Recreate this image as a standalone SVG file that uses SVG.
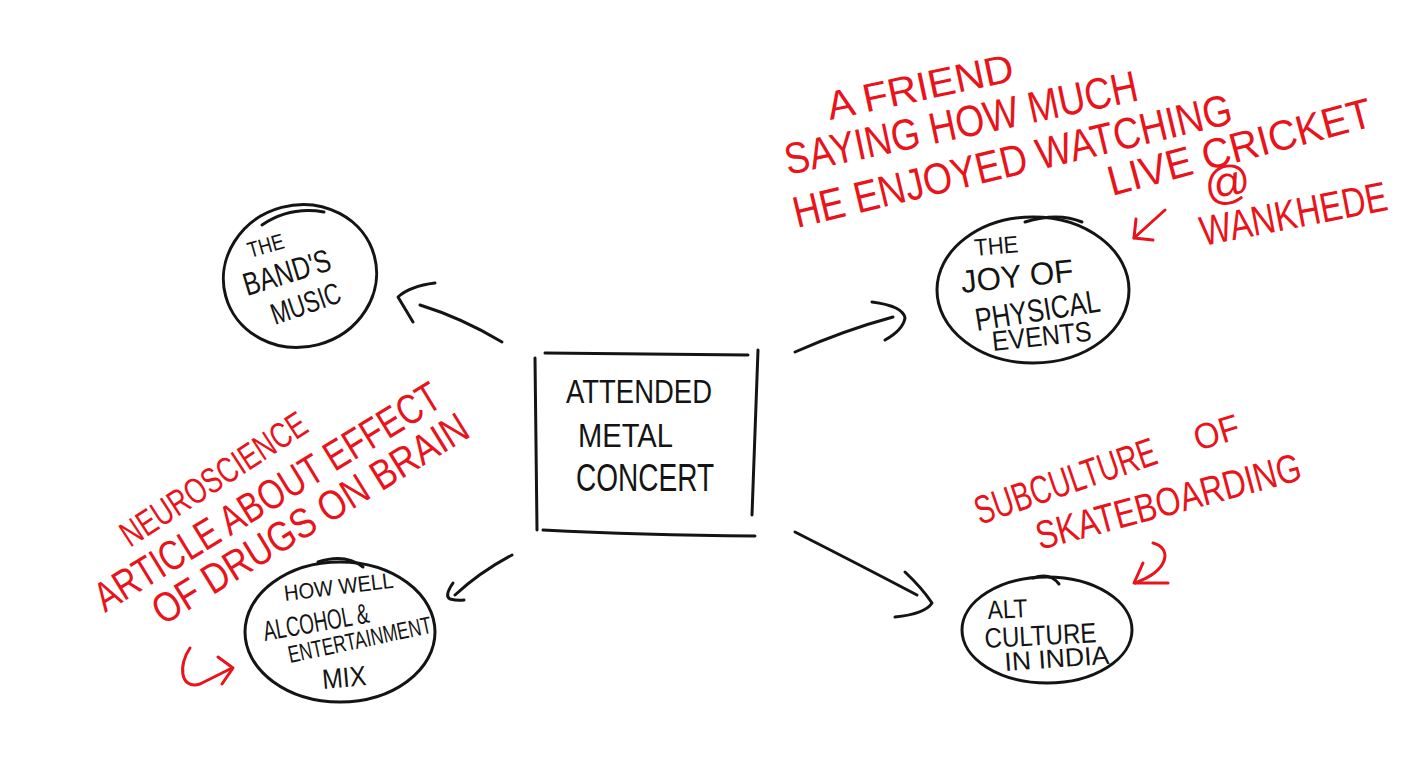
<svg xmlns="http://www.w3.org/2000/svg" width="1426" height="762" viewBox="0 0 1426 762">
<style>
.ink{fill:none;stroke:#141414;stroke-width:3;stroke-linecap:round;stroke-linejoin:round}
.red{fill:none;stroke:#e8141c;stroke-width:3;stroke-linecap:round;stroke-linejoin:round}
.bt{font-family:"Liberation Sans",Arial,sans-serif;fill:#141414}
.rt{font-family:"Liberation Sans",Arial,sans-serif;fill:#e8141c}
</style>
<rect width="1426" height="762" fill="#ffffff"/>

<g id="center-box">
<path class="ink" d="M545,353 L748,355"/>
<path class="ink" d="M535,358 L537,530"/>
<path class="ink" d="M758,350 L752,515"/>
<path class="ink" d="M543,530 Q640,535 755,536"/>
<text class="bt" x="566" y="403" font-size="34" textLength="146" lengthAdjust="spacingAndGlyphs">ATTENDED</text>
<text class="bt" x="578" y="447" font-size="34" textLength="95" lengthAdjust="spacingAndGlyphs">METAL</text>
<text class="bt" x="576" y="491" font-size="38" textLength="138" lengthAdjust="spacingAndGlyphs">CONCERT</text>
</g>

<g id="node-bands-music">
<ellipse class="ink" cx="300" cy="276" rx="77" ry="71" transform="rotate(-15 300 276)"/>
<path class="ink" d="M262,225 Q290,206 324,212"/>
<text class="bt" font-size="22" transform="translate(250,258) rotate(-16)" textLength="37" lengthAdjust="spacingAndGlyphs">THE</text>
<text class="bt" font-size="32" transform="translate(247,296) rotate(-17)" textLength="90" lengthAdjust="spacingAndGlyphs">BAND'S</text>
<text class="bt" font-size="30" transform="translate(275,325) rotate(-19)" textLength="72" lengthAdjust="spacingAndGlyphs">MUSIC</text>
</g>

<g id="node-joy">
<ellipse class="ink" cx="1033" cy="290" rx="96" ry="73"/>
<path class="ink" d="M1025,222 Q1058,212 1082,222"/>
<text class="bt" font-size="24" transform="translate(975,256) rotate(-5)" textLength="44" lengthAdjust="spacingAndGlyphs">THE</text>
<text class="bt" font-size="32" transform="translate(962,293) rotate(-6)" textLength="113" lengthAdjust="spacingAndGlyphs">JOY OF</text>
<text class="bt" font-size="32" transform="translate(977,331) rotate(-9)" textLength="126" lengthAdjust="spacingAndGlyphs">PHYSICAL</text>
<text class="bt" font-size="28" transform="translate(993,351) rotate(-6)" textLength="100" lengthAdjust="spacingAndGlyphs">EVENTS</text>
</g>

<g id="node-alcohol">
<ellipse class="ink" cx="340" cy="632" rx="95" ry="70"/>
<path class="ink" d="M318,562 Q345,553 363,567"/>
<text class="bt" font-size="22" transform="translate(285,601) rotate(-7)" textLength="110" lengthAdjust="spacingAndGlyphs">HOW WELL</text>
<text class="bt" font-size="28" transform="translate(265,641) rotate(-10)" textLength="107" lengthAdjust="spacingAndGlyphs">ALCOHOL &amp;</text>
<text class="bt" font-size="24" transform="translate(290,663) rotate(-12)" textLength="146" lengthAdjust="spacingAndGlyphs">ENTERTAINMENT</text>
<text class="bt" font-size="28" transform="translate(323,689) rotate(-5)" textLength="44" lengthAdjust="spacingAndGlyphs">MIX</text>
</g>

<g id="node-alt-culture">
<ellipse class="ink" cx="1047" cy="630" rx="85" ry="53"/>
<path class="ink" d="M1033,578 Q1050,572 1059,584"/>
<text class="bt" font-size="26" transform="translate(988,619) rotate(-3)" textLength="40" lengthAdjust="spacingAndGlyphs">ALT</text>
<text class="bt" font-size="28" transform="translate(985,648) rotate(-3)" textLength="112" lengthAdjust="spacingAndGlyphs">CULTURE</text>
<text class="bt" font-size="26" transform="translate(1005,671) rotate(-4)" textLength="105" lengthAdjust="spacingAndGlyphs">IN INDIA</text>
</g>

<g id="connectors">
<path class="ink" d="M502,342 Q462,318 420,305"/>
<path class="ink" d="M435,283 Q410,286 398,297 L413,322"/>
<path class="ink" d="M795,352 Q845,330 893,317"/>
<path class="ink" d="M872,302 Q903,306 905,318 Q903,330 885,340"/>
<path class="ink" d="M512,555 Q480,572 455,595"/>
<path class="ink" d="M453,583 Q444,596 450,599 Q458,601 464,600"/>
<path class="ink" d="M795,532 Q860,565 917,595"/>
<path class="ink" d="M905,572 Q922,588 932,603 Q925,614 895,617"/>
</g>

<g id="note-cricket">
<text class="rt" font-size="40" transform="translate(830,120) rotate(-12)" textLength="190" lengthAdjust="spacingAndGlyphs">A FRIEND</text>
<text class="rt" font-size="44" transform="translate(788,175) rotate(-12)" textLength="360" lengthAdjust="spacingAndGlyphs">SAYING HOW MUCH</text>
<text class="rt" font-size="44" transform="translate(797,228) rotate(-13.5)" textLength="450" lengthAdjust="spacingAndGlyphs">HE ENJOYED WATCHING</text>
<text class="rt" font-size="42" transform="translate(1112,196) rotate(-15)" textLength="272" lengthAdjust="spacingAndGlyphs">LIVE CRICKET</text>
<text class="rt" font-size="46" transform="translate(1207,202) rotate(-10)">@</text>
<text class="rt" font-size="33" transform="translate(1203,246) rotate(-11) scale(1,1.27)" textLength="190" lengthAdjust="spacingAndGlyphs">WANKHEDE</text>
<path class="red" d="M1165,210 L1134,238"/>
<path class="red" d="M1136,219 L1134,238 L1153,240"/>
</g>

<g id="note-neuroscience">
<text class="rt" font-size="36" transform="translate(130,548) rotate(-33)" textLength="215" lengthAdjust="spacingAndGlyphs">NEUROSCIENCE</text>
<text class="rt" font-size="42" transform="translate(105,613) rotate(-31.5)" textLength="398" lengthAdjust="spacingAndGlyphs">ARTICLE ABOUT EFFECT</text>
<text class="rt" font-size="42" transform="translate(163,626) rotate(-31.6)" textLength="363" lengthAdjust="spacingAndGlyphs">OF DRUGS ON BRAIN</text>
<path class="red" d="M190,648 C178,665 180,690 200,684 L232,668"/>
<path class="red" d="M218,657 L233,668 L222,684"/>
</g>

<g id="note-skateboarding">
<text class="rt" font-size="40" transform="translate(980,525) rotate(-19)" textLength="190" lengthAdjust="spacingAndGlyphs">SUBCULTURE</text>
<text class="rt" font-size="36" transform="translate(1198,451) rotate(-17)" textLength="46" lengthAdjust="spacingAndGlyphs">OF</text>
<text class="rt" font-size="40" transform="translate(1040,550) rotate(-15)" textLength="273" lengthAdjust="spacingAndGlyphs">SKATEBOARDING</text>
<path class="red" d="M1153,543 C1172,548 1170,570 1135,583"/>
<path class="red" d="M1143,563 L1134,583 L1168,583"/>
</g>
</svg>
